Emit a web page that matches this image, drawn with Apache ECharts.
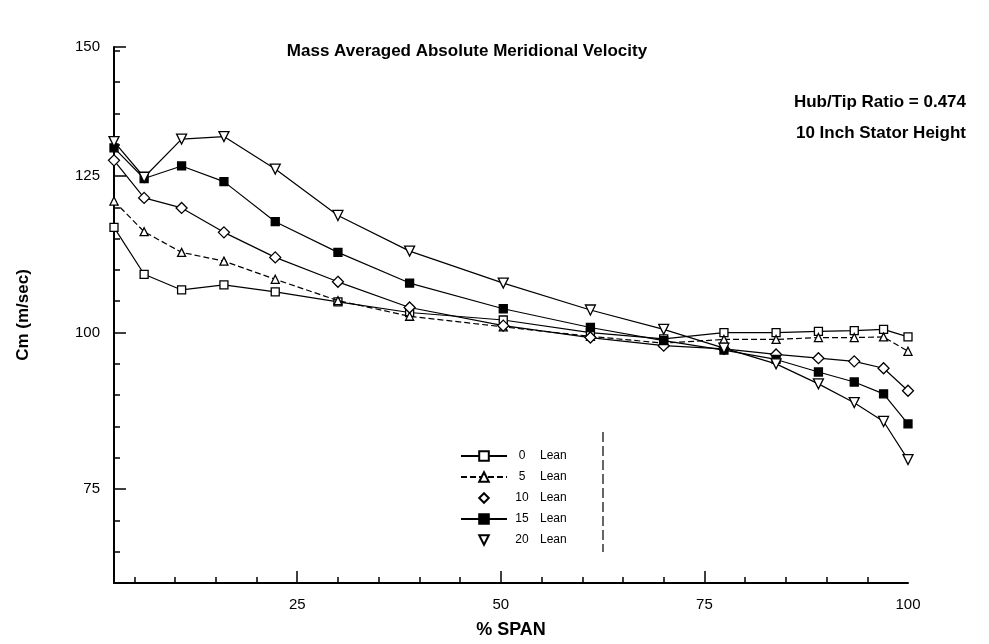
<!DOCTYPE html>
<html>
<head>
<meta charset="utf-8">
<script src="https://cdn.jsdelivr.net/npm/echarts@6/dist/echarts.min.js"></script>
<style>
html,body{margin:0;padding:0;background:#fff;}
#chart{width:989px;height:644px;}
</style>
</head>
<body>
<div id="chart"></div>
<script>
// ---- data ----
const spanPct = [2.5, 6.2, 10.8, 16, 22.3, 30, 38.8, 50.3, 61, 70, 77.4, 83.8, 89, 93.4, 97, 100];
const lean0  = [116.8, 109.3, 106.8, 107.6, 106.5, 104.9, 103.2, 102.0, 100.0, 99.0, 100.0, 100.0, 100.2, 100.3, 100.5, 99.3];
const lean5  = [121.0, 116.1, 112.8, 111.4, 108.5, 105.1, 102.6, 100.9, 99.4, 98.3, 98.9, 98.9, 99.2, 99.2, 99.3, 97.0];
const lean10 = [127.5, 121.5, 119.9, 116.0, 112.0, 108.1, 104.0, 101.1, 99.2, 97.9, 97.4, 96.5, 95.9, 95.4, 94.3, 90.7];
const lean15 = [129.5, 124.6, 126.6, 124.1, 117.7, 112.8, 107.9, 103.8, 100.8, 98.7, 97.2, 95.7, 93.7, 92.1, 90.2, 85.4];
const lean20 = [130.5, 124.8, 130.9, 131.3, 126.1, 118.7, 113.0, 107.9, 103.6, 100.5, 97.5, 95.0, 91.8, 88.8, 85.8, 79.7];
const seriesNames = ['0 Lean', '5 Lean', '10 Lean', '15 Lean', '20 Lean'];
const xMinorTicks = [5,10,15,20,25,30,35,40,45,50,55,60,65,70,75,80,85,90,95];
const xMajorTicks = [25, 50, 75];
const xTickLabels = [25, 50, 75, 100];
const yMinorTicks = [65,70,75,80,85,90,95,100,105,110,115,120,125,130,135,140,145];
const yMajorTicks = [75, 100, 125];
const yTickLabels = [75, 100, 125];
const yTopLabel = '150';

const X_MIN = 2.5, X_MAX = 100, Y_MIN = 60, Y_MAX = 145.6;
const FONT = '"Liberation Sans", Arial, sans-serif';

function pairs(ys){ return spanPct.map((x,i)=>[x, ys[i]]); }

const downTri = 'path://M0,0 L10,0 L5,9 Z';
const styles = [
  {symbol:'rect', fill:'#fff', line:'solid', size:8},
  {symbol:'triangle', fill:'#fff', line:[6,3], size:8},
  {symbol:'diamond', fill:'#fff', line:'solid', size:11},
  {symbol:'rect', fill:'#000', line:'solid', size:8},
  {symbol:downTri, fill:'#fff', line:'solid', size:10}
];
const allData = [lean0, lean5, lean10, lean15, lean20];

const series = allData.map((d,i)=>({
  name: seriesNames[i],
  type: 'line',
  xAxisIndex: 0, yAxisIndex: 0,
  data: pairs(d),
  symbol: styles[i].symbol,
  symbolSize: styles[i].size,
  showAllSymbol: true,
  lineStyle: {color:'#000', width:1.2, type: styles[i].line},
  itemStyle: {color: styles[i].fill, borderColor:'#000', borderWidth:1.3},
  emphasis: {disabled:true},
  z: 3 + i
}));

const chart = echarts.init(document.getElementById('chart'), null, {renderer:'canvas'});
const grid = {left:114, right:81, top:47, bottom:59};

chart.setOption({
  animation: false,
  backgroundColor: '#fff',
  title: [
    {text:'Mass Averaged Absolute Meridional Velocity', left: 462, top: 38, textAlign:'center',
     textStyle:{fontFamily:FONT, fontWeight:'bold', fontSize:17, color:'#000'}},
    {text:'Hub/Tip Ratio = 0.474', right: 18, top: 89,
     textStyle:{fontFamily:FONT, fontWeight:'bold', fontSize:17, color:'#000'}},
    {text:'10 Inch Stator Height', right: 18, top: 120,
     textStyle:{fontFamily:FONT, fontWeight:'bold', fontSize:17, color:'#000'}}
  ],
  legend: {
    orient:'vertical', left: 455, top: 445,
    itemWidth: 46, itemHeight: 12, itemGap: 9,
    data: seriesNames.map((n,i)=>({name:n, lineStyle: (i===2||i===4)?{opacity:0}:undefined})),
    formatter: function(name){ const p = name.split(' '); return '{n|'+p[0]+'}{l|'+p[1]+'}'; },
    textStyle:{fontFamily:FONT, fontSize:12, color:'#000',
      rich:{n:{width:20, align:'right', fontSize:12, fontFamily:FONT}, l:{padding:[0,0,0,8], fontSize:12, fontFamily:FONT}}},
    selectedMode:false
  },
  grid: grid,
  xAxis: [
    {type:'value', min:X_MIN, max:X_MAX, name:'% SPAN', nameLocation:'middle', nameGap:38,
     nameTextStyle:{fontFamily:FONT, fontWeight:'bold', fontSize:18, color:'#000'},
     axisLine:{show:true, lineStyle:{color:'#000', width:2}},
     axisTick:{show:true, inside:true, length:6, customValues:xMinorTicks, lineStyle:{color:'#000', width:1.5}},
     axisLabel:{show:true, customValues:xTickLabels, margin:14, fontFamily:FONT, fontSize:15, color:'#000'},
     splitLine:{show:false}},
    {type:'value', min:X_MIN, max:X_MAX, position:'bottom', gridIndex:0,
     axisLine:{show:false},
     axisTick:{show:true, inside:true, length:12, customValues:xMajorTicks, lineStyle:{color:'#000', width:1.5}},
     axisLabel:{show:false}, splitLine:{show:false}}
  ],
  yAxis: [
    {type:'value', min:Y_MIN, max:Y_MAX, name:'Cm (m/sec)', nameLocation:'middle', nameGap:82, nameRotate:90,
     nameTextStyle:{fontFamily:FONT, fontWeight:'bold', fontSize:17, color:'#000'},
     axisLine:{show:true, lineStyle:{color:'#000', width:2}},
     axisTick:{show:true, inside:true, length:6, customValues:yMinorTicks, lineStyle:{color:'#000', width:1.5}},
     axisLabel:{show:true, customValues:yTickLabels.concat([Y_MAX]), margin:14, fontFamily:FONT, fontSize:15, color:'#000',
       formatter: v => (v === Y_MAX ? yTopLabel : String(v))},
     splitLine:{show:false}},
    {type:'value', min:Y_MIN, max:Y_MAX, position:'left', gridIndex:0,
     axisLine:{show:false},
     axisTick:{show:true, inside:true, length:12, customValues:yMajorTicks.concat([Y_MAX]), lineStyle:{color:'#000', width:1.5}},
     axisLabel:{show:false}, splitLine:{show:false}}
  ],
  graphic: [
    {type:'line', shape:{x1:603, y1:432, x2:603, y2:552}, style:{stroke:'#000', lineWidth:1.2, lineDash:[10,4]}}
  ],
  series: series
});
</script>
</body>
</html>
